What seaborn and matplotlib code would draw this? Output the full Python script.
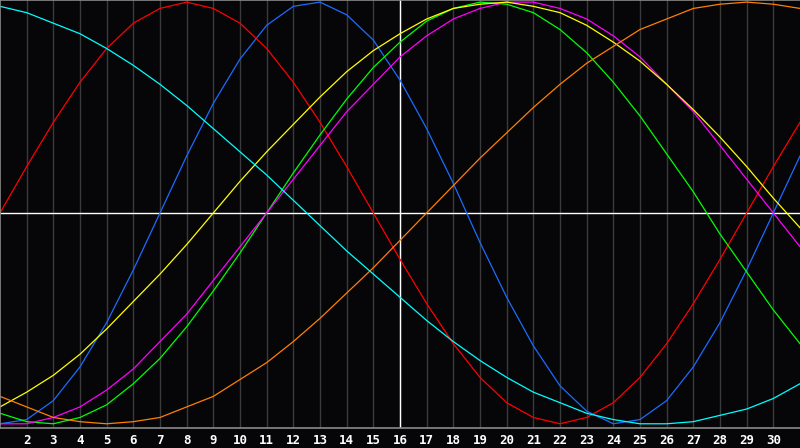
import numpy as np
import pandas as pd
import matplotlib
matplotlib.use("Agg")
import matplotlib.pyplot as plt
import seaborn as sns

# Days shown on the chart (1..31), today = 16
days = list(range(1, 32))
today = 16

# Values, one per day
physical = [-1.00, -0.98, -0.89, -0.73, -0.52, -0.27, 0.00, 0.27, 0.52, 0.73, 0.89,
            0.98, 1.00, 0.94, 0.82, 0.63, 0.40, 0.14, -0.14, -0.40, -0.63, -0.82,
            -0.94, -1.00, -0.98, -0.89, -0.73, -0.52, -0.27, 0.00, 0.27]
emotional = [0.00, 0.22, 0.43, 0.62, 0.78, 0.90, 0.97, 1.00, 0.97, 0.90, 0.78,
             0.62, 0.43, 0.22, 0.00, -0.22, -0.43, -0.62, -0.78, -0.90, -0.97, -1.00,
             -0.97, -0.90, -0.78, -0.62, -0.43, -0.22, 0.00, 0.22, 0.43]
intellectual = [-0.95, -0.99, -1.00, -0.97, -0.91, -0.81, -0.69, -0.54, -0.37, -0.19, 0.00,
                0.19, 0.37, 0.54, 0.69, 0.81, 0.91, 0.97, 1.00, 0.99, 0.95, 0.87,
                0.76, 0.62, 0.46, 0.28, 0.10, -0.10, -0.28, -0.46, -0.62]
intuitive = [-1.00, -1.00, -0.97, -0.92, -0.84, -0.74, -0.61, -0.48, -0.32, -0.16, 0.00,
             0.16, 0.32, 0.48, 0.61, 0.74, 0.84, 0.92, 0.97, 1.00, 1.00, 0.97,
             0.92, 0.84, 0.74, 0.61, 0.48, 0.32, 0.16, 0.00, -0.16]
aesthetic = [-0.92, -0.85, -0.77, -0.67, -0.55, -0.42, -0.29, -0.15, 0.00, 0.15, 0.29,
             0.42, 0.55, 0.67, 0.77, 0.85, 0.92, 0.97, 0.99, 1.00, 0.98, 0.95,
             0.89, 0.81, 0.72, 0.61, 0.49, 0.36, 0.22, 0.07, -0.07]
awareness = [-0.87, -0.92, -0.97, -0.99, -1.00, -0.99, -0.97, -0.92, -0.87, -0.79, -0.71,
             -0.61, -0.50, -0.38, -0.26, -0.13, 0.00, 0.13, 0.26, 0.38, 0.50, 0.61,
             0.71, 0.79, 0.87, 0.92, 0.97, 0.99, 1.00, 0.99, 0.97]
spiritual = [0.98, 0.95, 0.90, 0.85, 0.78, 0.70, 0.61, 0.51, 0.40, 0.29, 0.18,
             0.06, -0.06, -0.18, -0.29, -0.40, -0.51, -0.61, -0.70, -0.78, -0.85, -0.90,
             -0.95, -0.98, -1.00, -1.00, -0.99, -0.96, -0.93, -0.88, -0.81]

tick_days = list(range(2, 31))

series = {
    "physical": physical,
    "emotional": emotional,
    "intellectual": intellectual,
    "intuitive": intuitive,
    "aesthetic": aesthetic,
    "awareness": awareness,
    "spiritual": spiritual,
}
colors = {
    "physical": "#1a6cff",
    "emotional": "#ff0000",
    "intellectual": "#00ff00",
    "intuitive": "#ff00ff",
    "aesthetic": "#ffff00",
    "awareness": "#ff8000",
    "spiritual": "#00ffff",
}

df = pd.concat([pd.DataFrame({"day": days, "value": v, "cycle": k}) for k, v in series.items()])

bg = "#060609"
fig = plt.figure(figsize=(8, 4.48), dpi=100, facecolor=bg)
ax = fig.add_axes([0, 20 / 448, 1, 428 / 448])
ax.set_facecolor(bg)

# grid + reference lines
for d in tick_days:
    ax.axvline(d, color="#3a3a3a", lw=1.0, zorder=0)
ax.axhline(0, color="white", lw=1.0, zorder=1)
ax.axvline(today, color="white", lw=1.0, zorder=1)

sns.lineplot(data=df, x="day", y="value", hue="cycle", palette=colors,
             legend=False, lw=0.9, ax=ax, zorder=2)

ax.set_xlim(1, 31)
ax.set_ylim(-1.02, 1.01)
ax.set_xticks(tick_days)
ax.set_xticklabels([str(d) for d in tick_days], color="white",
                   fontsize=9, fontweight="bold", family="DejaVu Sans Mono")
ax.set_yticks([])
ax.tick_params(axis="x", length=0, pad=4)
ax.set_xlabel("")
ax.set_ylabel("")
for side in ["top", "left", "bottom"]:
    ax.spines[side].set_color("#8a8a8a")
    ax.spines[side].set_linewidth(1.2)
ax.spines["right"].set_visible(False)

fig.savefig("out.png", dpi=100, facecolor=bg)
